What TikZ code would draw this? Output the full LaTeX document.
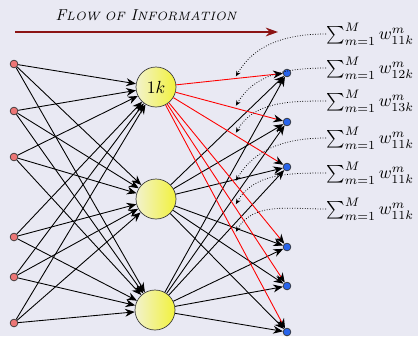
\documentclass[tikz,border=0pt]{standalone}
\usetikzlibrary{arrows.meta,calc}
\definecolor{bgc}{RGB}{233,233,243}
\definecolor{inred}{RGB}{236,118,118}
\definecolor{outblue}{RGB}{40,100,235}
\definecolor{flowred}{RGB}{140,20,20}
\definecolor{hidlight}{RGB}{242,242,205}
\definecolor{hidyel}{RGB}{242,242,60}
\begin{document}
\begin{tikzpicture}[x=0.57pt,y=-0.57pt,
  inp/.style={circle,draw=black!80,fill=inred,inner sep=0pt,minimum size=4.4pt,line width=0.4pt},
  outp/.style={circle,draw=black!80,fill=outblue,inner sep=0pt,minimum size=4.4pt,line width=0.4pt},
  hid/.style={circle,draw=black!75,left color=hidlight,right color=hidyel,minimum size=22.8pt,inner sep=0pt,line width=0.4pt},
  conn/.style={-{Stealth[length=5.5pt,width=4.5pt]},line width=0.5pt,black},
  redconn/.style={-{Stealth[length=5.5pt,width=4.5pt,black]},line width=0.5pt,red},
  dotarr/.style={-{Stealth[length=3pt,width=2.6pt]},densely dotted,line width=0.45pt,shorten >=1.5pt},
  lab/.style={anchor=west,inner sep=0pt},
  flowarr/.style={-{Stealth[length=7pt,width=5pt]},line width=0.8pt,flowred}]
\fill[bgc] (0,0) rectangle (418,336);
\useasboundingbox (0,0) rectangle (418,336);

\node[font=\fontsize{9}{11}\selectfont\itshape] (title) at (146,15) {F{\fontsize{6.9}{8}\selectfont LOW OF} I{\fontsize{6.9}{8}\selectfont NFORMATION}};
\coordinate (fa) at (15,32);
\coordinate (fb) at (278,32);
\draw[flowarr] (fa) -- (fb);

\node[inp] (i1) at (14,64) {};
\node[inp] (i2) at (14,111) {};
\node[inp] (i3) at (14,157) {};
\node[inp] (i4) at (14,237) {};
\node[inp] (i5) at (14,277) {};
\node[inp] (i6) at (14,323) {};

\node[hid] (h1) at (156,87) {$1k$};
\node[hid] (h2) at (156,199) {};
\node[hid] (h3) at (155,310) {};

\node[outp] (o1) at (287,73) {};
\node[outp] (o2) at (287,122) {};
\node[outp] (o3) at (287,167) {};
\node[outp] (o4) at (287,247) {};
\node[outp] (o5) at (287,286) {};
\node[outp] (o6) at (287,332) {};

\foreach \i in {1,...,6}{
  \foreach \j in {1,2,3}{
    \draw[conn] (i\i) -- (h\j);
  }
}
\foreach \j in {2,3}{
  \foreach \k in {1,...,6}{
    \draw[conn] (h\j) -- (o\k);
  }
}
\foreach \k in {1,...,6}{
  \draw[redconn] (h1) -- (o\k);
}

\node[lab] (l1) at (326,34) {$\sum_{m=1}^{M} w_{11k}^{m}$};
\node[lab] (l2) at (326,68) {$\sum_{m=1}^{M} w_{12k}^{m}$};
\node[lab] (l3) at (326,101) {$\sum_{m=1}^{M} w_{13k}^{m}$};
\node[lab] (l4) at (326,138) {$\sum_{m=1}^{M} w_{11k}^{m}$};
\node[lab] (l5) at (326,173) {$\sum_{m=1}^{M} w_{11k}^{m}$};
\node[lab] (l6) at (326,209) {$\sum_{m=1}^{M} w_{11k}^{m}$};

\foreach \k in {1,...,6}{
  \coordinate (c\k) at ($(h1)!0.6!(o\k)$);
}
\draw[dotarr] (l1.west) to[out=180,in=60] (c1);
\draw[dotarr] (l2.west) to[out=180,in=60] (c2);
\draw[dotarr] (l3.west) to[out=180,in=60] (c3);
\draw[dotarr] (l4.west) to[out=180,in=60] (c4);
\draw[dotarr] (l5.west) to[out=180,in=60] (c5);
\draw[dotarr] (l6.west) to[out=180,in=60] (c6);
\end{tikzpicture}
\end{document}
